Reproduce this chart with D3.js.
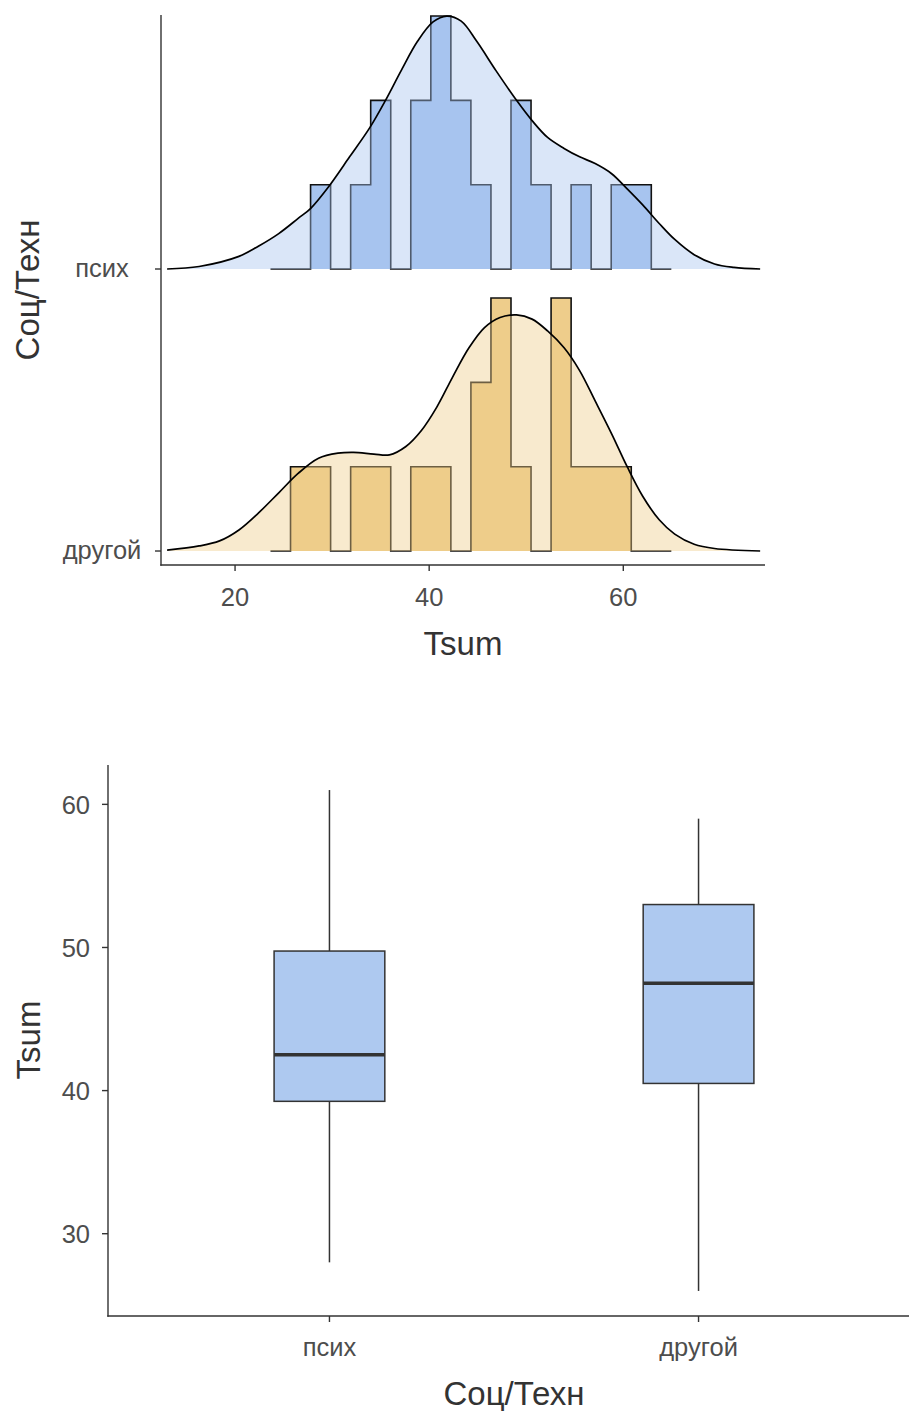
<!DOCTYPE html>
<html lang="ru">
<head>
    <meta charset="UTF-8">
    <title>Tsum</title>
    <script src="https://d3js.org/d3.v7.min.js"></script>
    <style>
        body { margin: 0; background: #fff; }
        svg { display: block; font-family: "Liberation Sans", Arial, sans-serif; }
        .tick-label { fill: #4d4d4d; font-size: 25.5px; }
        .title { fill: #333; font-size: 33px; }
        .axis-line { stroke: #333; stroke-width: 1.4; }
    </style>
</head>
<body>
<svg width="909" height="1411"></svg>

<script>
    // ---- data ----
    var groups = ["псих", "другой"];
    var xTicks = [20, 40, 60];
    var yTicks = [30, 40, 50, 60];

    // histogram (binline) counts, bins of equal width starting at binStart
    var binStart = 23.65;
    var binWidth = 2.065;
    var histPsych = [0, 0, 1, 0, 1, 2, 0, 2, 3, 2, 1, 0, 2, 1, 0, 1, 0, 1, 1, 0];
    var histOther = [0, 1, 1, 0, 1, 1, 0, 1, 1, 0, 2, 3, 1, 0, 3, 1, 1, 1, 0, 0];

    // density ridges, heights in count units
    var densPsychX = [13.0, 16.3, 20.4, 22.4, 24.5, 26.5, 27.8, 29.6, 31.8, 33.9, 35.5, 37.1, 38.8, 40.4, 41.8,
                      43.3, 44.9, 46.9, 49.0, 50.6, 52.2, 53.9, 55.5, 57.1, 58.8, 60.4, 62.0, 63.7, 65.3, 67.3,
                      69.4, 71.4, 74.1];
    var densPsychY = [0.0, 0.03, 0.15, 0.27, 0.42, 0.60, 0.72, 0.97, 1.33, 1.68, 2.0, 2.35, 2.70, 2.93, 3.0,
                      2.94, 2.70, 2.35, 2.0, 1.76, 1.56, 1.43, 1.33, 1.25, 1.13, 0.95, 0.76, 0.54, 0.35, 0.17,
                      0.06, 0.02, 0.0];
    var densOtherX = [13.0, 16.3, 18.4, 20.4, 22.4, 24.5, 26.5, 28.6, 30.6, 32.2, 34.3, 35.9, 37.6, 39.2, 40.8,
                      42.4, 44.1, 45.7, 47.3, 49.0, 50.6, 52.2, 53.9, 55.5, 57.1, 58.8, 60.4, 62.0, 63.7, 65.3,
                      67.3, 69.4, 74.1];
    var densOtherY = [0.01, 0.06, 0.12, 0.25, 0.45, 0.69, 0.92, 1.10, 1.16, 1.17, 1.15, 1.14, 1.24, 1.43, 1.71,
                      2.06, 2.41, 2.65, 2.77, 2.80, 2.75, 2.61, 2.41, 2.14, 1.78, 1.39, 1.0, 0.65, 0.37, 0.2,
                      0.08, 0.03, 0.0];

    // boxplot statistics
    var boxMin = [28, 26];
    var boxQ1 = [39.25, 40.5];
    var boxMedian = [42.5, 47.5];
    var boxQ3 = [49.75, 53];
    var boxMax = [61, 59];

    var ridgeFill = ["#a7c4ef", "#eecd8b"];
    var boxFill = "#aec9f0";

    var svg = d3.select("svg");

    // ================= top: ridgeline =================
    var x = d3.scaleLinear().domain([12.37, 74.6]).range([161, 765]);
    // group position: другой = 1, псих = 2
    var y = d3.scaleLinear().domain([0.9504, 2.9007]).range([565, 15]);
    var countUnit = 0.299; // ridge height per count, in group units
    var groupPos = {"псих": 2, "другой": 1};

    var topG = svg.append("g");

    function drawRidge(name, counts, dx, dy, color){
        var base = groupPos[name];
        var yc = function(c){ return y(base + c * countUnit); };

        var pts = counts.map(function(c, i){ return [binStart + i * binWidth, c]; });
        pts.push([binStart + counts.length * binWidth, counts[counts.length - 1]]);

        var histArea = d3.area()
            .x(function(d){ return x(d[0]); })
            .y0(y(base))
            .y1(function(d){ return yc(d[1]); })
            .curve(d3.curveStepAfter);
        var histLine = d3.line()
            .x(function(d){ return x(d[0]); })
            .y(function(d){ return yc(d[1]); })
            .curve(d3.curveStepAfter);

        topG.append("path").datum(pts).attr("d", histArea).attr("fill", color);
        topG.append("path").datum(pts).attr("d", histLine)
            .attr("fill", "none").attr("stroke", "#111").attr("stroke-width", 1.6);

        var dens = dx.map(function(v, i){ return [v, dy[i]]; });
        var densArea = d3.area()
            .x(function(d){ return x(d[0]); })
            .y0(y(base))
            .y1(function(d){ return yc(d[1]); })
            .curve(d3.curveCatmullRom.alpha(0.5));
        var densLine = d3.line()
            .x(function(d){ return x(d[0]); })
            .y(function(d){ return yc(d[1]); })
            .curve(d3.curveCatmullRom.alpha(0.5));

        topG.append("path").datum(dens).attr("d", densArea)
            .attr("fill", color).attr("fill-opacity", 0.42);
        topG.append("path").datum(dens).attr("d", densLine)
            .attr("fill", "none").attr("stroke", "#000").attr("stroke-width", 1.7);
    }

    drawRidge("псих", histPsych, densPsychX, densPsychY, ridgeFill[0]);
    drawRidge("другой", histOther, densOtherX, densOtherY, ridgeFill[1]);

    // axes
    topG.append("line").attr("class", "axis-line")
        .attr("x1", 161).attr("x2", 161).attr("y1", 15).attr("y2", 565.7);
    topG.append("line").attr("class", "axis-line")
        .attr("x1", 160.3).attr("x2", 765).attr("y1", 565).attr("y2", 565);

    xTicks.forEach(function(t){
        topG.append("line").attr("class", "axis-line")
            .attr("x1", x(t)).attr("x2", x(t)).attr("y1", 565).attr("y2", 571);
        topG.append("text").attr("class", "tick-label")
            .attr("x", x(t)).attr("y", 606).attr("text-anchor", "middle").text(t);
    });
    groups.forEach(function(g){
        var yy = y(groupPos[g]);
        topG.append("line").attr("class", "axis-line")
            .attr("x1", 155).attr("x2", 161).attr("y1", yy).attr("y2", yy);
        topG.append("text").attr("class", "tick-label")
            .attr("x", 102).attr("y", yy).attr("dy", "0.33em")
            .attr("text-anchor", "middle").text(g);
    });

    topG.append("text").attr("class", "title")
        .attr("x", 463).attr("y", 655).attr("text-anchor", "middle").text("Tsum");
    topG.append("text").attr("class", "title")
        .attr("transform", "translate(39,290) rotate(-90)")
        .attr("text-anchor", "middle").text("Соц/Техн");

    // ================= bottom: boxplot =================
    var bx = d3.scalePoint().domain(groups).range([108, 920]).padding(0.6);
    var by = d3.scaleLinear().domain([24.25, 62.75]).range([1316, 765]);
    var boxW = bx.step() * 0.3;

    var bottomG = svg.append("g");

    groups.forEach(function(g, i){
        var cx = bx(g);
        bottomG.append("line")
            .attr("x1", cx).attr("x2", cx).attr("y1", by(boxQ3[i])).attr("y2", by(boxMax[i]))
            .attr("stroke", "#333").attr("stroke-width", 1.5);
        bottomG.append("line")
            .attr("x1", cx).attr("x2", cx).attr("y1", by(boxQ1[i])).attr("y2", by(boxMin[i]))
            .attr("stroke", "#333").attr("stroke-width", 1.5);
        bottomG.append("rect")
            .attr("x", cx - boxW / 2).attr("width", boxW)
            .attr("y", by(boxQ3[i])).attr("height", by(boxQ1[i]) - by(boxQ3[i]))
            .attr("fill", boxFill).attr("stroke", "#333").attr("stroke-width", 1.5);
        bottomG.append("line")
            .attr("x1", cx - boxW / 2).attr("x2", cx + boxW / 2)
            .attr("y1", by(boxMedian[i])).attr("y2", by(boxMedian[i]))
            .attr("stroke", "#333").attr("stroke-width", 3.5);
    });

    bottomG.append("line").attr("class", "axis-line")
        .attr("x1", 108).attr("x2", 108).attr("y1", 765).attr("y2", 1316.7);
    bottomG.append("line").attr("class", "axis-line")
        .attr("x1", 107.3).attr("x2", 909).attr("y1", 1316).attr("y2", 1316);

    yTicks.forEach(function(t){
        bottomG.append("line").attr("class", "axis-line")
            .attr("x1", 102).attr("x2", 108).attr("y1", by(t)).attr("y2", by(t));
        bottomG.append("text").attr("class", "tick-label")
            .attr("x", 90).attr("y", by(t)).attr("dy", "0.36em")
            .attr("text-anchor", "end").text(t);
    });
    groups.forEach(function(g){
        bottomG.append("line").attr("class", "axis-line")
            .attr("x1", bx(g)).attr("x2", bx(g)).attr("y1", 1316).attr("y2", 1322);
        bottomG.append("text").attr("class", "tick-label")
            .attr("x", bx(g)).attr("y", 1356).attr("text-anchor", "middle").text(g);
    });

    bottomG.append("text").attr("class", "title")
        .attr("x", 514).attr("y", 1405).attr("text-anchor", "middle").text("Соц/Техн");
    bottomG.append("text").attr("class", "title")
        .attr("transform", "translate(40,1040) rotate(-90)")
        .attr("text-anchor", "middle").text("Tsum");
</script>
</body>
</html>
